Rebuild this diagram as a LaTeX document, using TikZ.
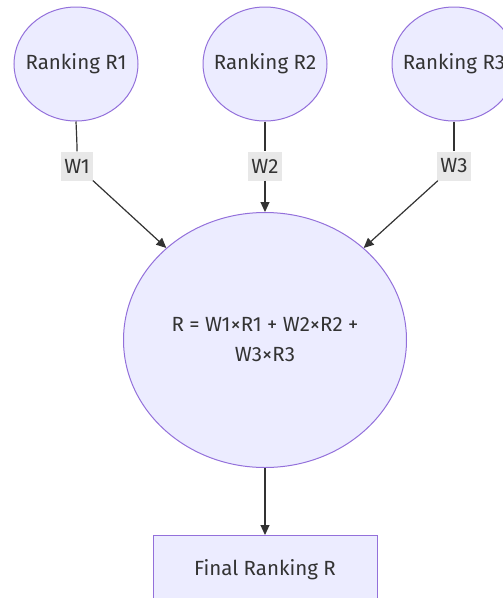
\documentclass[tikz,border=0pt]{standalone}
\usepackage{fontspec}
\setmainfont{Fira Sans}
\usepackage{tikz}
\usetikzlibrary{shapes.geometric}
\usetikzlibrary{arrows.meta}
\usetikzlibrary{positioning}
\definecolor{lavender}{HTML}{ECECFF}
\definecolor{amethyst}{HTML}{9370DB}
\definecolor{charcoal}{HTML}{333333}
\definecolor{labelgray}{HTML}{E8E8E8}

\begin{document}
\begin{tikzpicture}[x=1pt, y=-1pt,
    rank/.style={ellipse, draw=amethyst, fill=lavender, line width=1pt,
                 minimum width=124pt, minimum height=114pt,
                 inner xsep=-15pt, inner ysep=0pt,
                 text=charcoal, font=\fontsize{20.5}{24}\selectfont},
    weight/.style={fill=labelgray, inner xsep=3pt, minimum height=29pt,
                   text=charcoal, font=\fontsize{20.5}{24}\selectfont},
    wire/.style={draw=charcoal, line width=1.2pt},
    arrow/.style={wire, -{Triangle[length=10pt,width=9pt]}}]
    % Frame to fix the size:
    \useasboundingbox (0,0) rectangle (503,598);
    \clip (0,0) rectangle (503,598);
    % Input rankings
    \node[rank] (r1) at ( 76, 64) {Ranking R1};
    \node[rank] (r2) at (265, 64) {Ranking R2};
    \node[rank] (r3) at (454, 64) {Ranking R3};
    % Weighted sum
    \node[rank, minimum width=283pt, minimum height=255pt, align=center,
          font=\fontsize{20.5}{30}\selectfont] (sum) at (265, 340)
          {R = W1×R1 + W2×R2 +\\W3×R3};
    % Result
    \node[draw=amethyst, fill=lavender, line width=1pt, minimum width=224pt,
          minimum height=68pt, text=charcoal, font=\fontsize{20.5}{24}\selectfont,
          below=67pt of sum] (final) {Final Ranking R};
    % Weights
    \node[weight] (w1) at ( 77, 166) {W1};
    \node[weight] (w2) at (265, 166) {W2};
    \node[weight] (w3) at (454, 166) {W3};
    % Edges
    \draw[wire]  (r1.south) .. controls (77, 145) .. (w1);
    \draw[arrow] (w1) -- (sum.137);
    \draw[wire]  (r2) -- (w2);
    \draw[arrow] (w2) -- (sum);
    \draw[wire]  (r3.south) .. controls (454, 145) .. (w3);
    \draw[arrow] (w3) -- (sum.43);
    \draw[arrow] (sum) -- (final);
\end{tikzpicture}
\end{document}
